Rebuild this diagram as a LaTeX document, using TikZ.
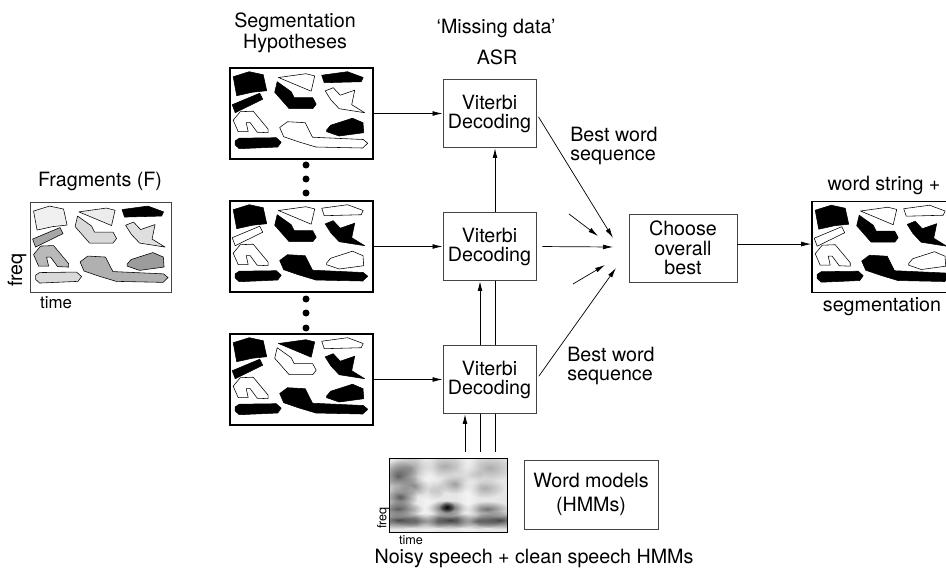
\documentclass[tikz,border=0pt]{standalone}
\usepackage{fontspec}
\setmainfont{TeX Gyre Heros}
\usetikzlibrary{arrows.meta, positioning, calc, fadings}
\definecolor{myborder}{HTML}{444444}
\definecolor{specback}{HTML}{E6E6E6}
\tikzfading[name=blob, inner color=transparent!0, outer color=transparent!100]
\tikzset{
block/.style={
draw=myborder,
fill=white,
line width=0.6pt,
align=center,
inner sep=0pt,
minimum width=2.325cm,
minimum height=1.7cm
},
hyp/.style={
draw=black,
line width=1.1pt,
inner sep=0pt,
minimum width=3.575cm,
minimum height=2.275cm
},
fragbox/.style={
draw=myborder,
line width=0.6pt,
inner sep=0pt,
minimum width=3.525cm,
minimum height=2.25cm
},
frag/.style={
draw=black,
line width=0.4pt,
line join=round
},
labeltext/.style={
align=center
},
smalllabel/.style={
font=\fontsize{9}{10}\selectfont
},
arrow/.style={
-{Latex[length=2.5mm,width=1.2mm]},
line width=0.5pt
}
}

% fragment outlines, in pixels from the top left corner of a box
\def\fragA{(4,9.5) -- (20,4.5) -- (34,7.5) -- (37.5,23.5) -- (23.3,25) -- (7.5,28.5)}
\def\fragB{(3,37.5) -- (30.5,26) -- (33.5,32) -- (6,45.5)}
\def\fragC{(49.3,10.3) -- (76.7,6.5) -- (85.5,8.7) -- (82,24)}
\def\fragD{(48,14.5) -- (45.5,25) -- (60,41.5) -- (83.5,41.5) -- (87,37) -- (83.5,30.5) -- (65,30.5) -- (62,24.5)}
\def\fragE{(92.5,8) -- (118.3,4.5) -- (134,10.3) -- (132,14.5) -- (95,15.5)}
\def\fragF{(96,23.7) -- (104,20.5) -- (111,28) -- (125.5,23) -- (122.5,37.5) -- (135.5,45.5) -- (110,41.5) -- (101.7,32.7)}
\def\fragG{(4,53) -- (11,44.5) -- (24,44) -- (39,62) -- (39,65.5) -- (28,65) -- (21,55.5) -- (17,55.5) -- (19,64.5) -- (9,64.5)}
\def\fragH{(6,73.7) -- (10,71) -- (47,70.5) -- (52,75) -- (48.5,79.8) -- (10,81.5) -- (6,77.7)}
\def\fragI{(50.5,60.3) -- (58.3,54.5) -- (76,55.5) -- (80,63.5) -- (83.3,70) -- (134,72.3) -- (138.5,76) -- (133.5,80.8) -- (86.7,79.8) -- (70,74.8) -- (54.5,69.5)}
\def\fragJ{(97.5,62.7) -- (101.5,58) -- (123.3,51) -- (133.8,55.5) -- (134.5,65.5) -- (110,68.8) -- (97.5,64.5)}

\newcommand{\fragfill}[2]{%
  \begin{scope}[shift={(#1.north west)}]
    \foreach \p/\c in {#2} {\draw[frag, fill=\c] \p -- cycle;}
  \end{scope}}

\begin{document}
\begin{tikzpicture}[x=0.025cm, y=-0.025cm, font=\fontsize{14}{13.5}\selectfont]
\clip (0,0) rectangle (946,570);

% titles
\node[labeltext, font=\fontsize{14}{15}\selectfont] (hyptitle) at (295,32.5) {Segmentation\\Hypotheses};
\node (asrtitle) at (496,28) {‘Missing data’};
\node (asr) at (497,57) {ASR};
\node (fragtitle) at (100,181) {Fragments (F)};

% fragments
\node[fragbox] (frags) at (100.5,247) {};
\fragfill{frags}{\fragA/gray!12, \fragB/gray!70, \fragC/gray!15, \fragD/gray!30, \fragE/black,
  \fragF/gray!25, \fragG/gray!55, \fragH/gray!30, \fragI/gray!62, \fragJ/gray!78}
\node[rotate=90] (fragfreq) at (17,270) {freq};
\node[font=\fontsize{12}{13}\selectfont] (fragtime) at (56,303) {time};

% hypotheses
\node[hyp] (hypA) at (301.5,113.5) {};
\fragfill{hypA}{\fragA/black, \fragB/black, \fragC/white, \fragD/black, \fragE/black,
  \fragF/white, \fragG/white, \fragH/black, \fragI/white, \fragJ/black}
\node[hyp] (hypB) at (301.5,246.5) {};
\fragfill{hypB}{\fragA/black, \fragB/white, \fragC/white, \fragD/black, \fragE/white,
  \fragF/black, \fragG/white, \fragH/black, \fragI/black, \fragJ/white}
\node[hyp] (hypC) at (301.5,379.5) {};
\fragfill{hypC}{\fragA/black, \fragB/black, \fragC/black, \fragD/white, \fragE/white,
  \fragF/black, \fragG/white, \fragH/black, \fragI/black, \fragJ/black}
\foreach \y in {165,179,193,299,313,328} {
  \fill (306,\y) circle (3.5);
}

% decoders
\node[block] (vitA) at (489.5,113.5) {Viterbi\\Decoding};
\node[block] (vitB) at (489.5,246.5) {Viterbi\\Decoding};
\node[block] (vitC) at (489.5,379.5) {Viterbi\\Decoding};
\node[anchor=west, align=left, inner sep=0pt] (bestA) at (570,145.5) {Best word\\sequence};
\node[anchor=west, align=left, inner sep=0pt] (bestC) at (567,366) {Best word\\sequence};

% choice and result
\node[block, minimum width=2.7cm, font=\fontsize{14}{14}\selectfont] (choose) at (683,248) {Choose\\overall\\best};
\node[hyp] (result) at (883.5,247) {};
\fragfill{result}{\fragA/black, \fragB/white, \fragC/white, \fragD/black, \fragE/white,
  \fragF/black, \fragG/white, \fragH/black, \fragI/black, \fragJ/white}
\node (resulttop) at (884,185) {word string +};
\node (resultbot) at (882,307) {segmentation};

% spectrogram
\node[fill=specback, minimum width=2.925cm, minimum height=1.825cm, inner sep=0pt] (spec) at (448.5,495.5) {};
\begin{scope}
  \clip (spec.south west) rectangle (spec.north east);
  \foreach \x/\y/\rx/\ry/\k in {
      % upper texture
      410/468/22/14/0.3, 445/466/24/12/0.25, 490/468/24/14/0.25, 455/484/18/10/0.3,
      485/488/20/10/0.25, 430/490/16/10/0.25, 470/475/14/8/0.2,
      % left formants
      398/476/20/16/0.55, 400/497/18/12/0.6, 414/486/16/10/0.4,
      % lower bands
      398/509/26/8/0.6, 447/508/22/8/0.65, 487/509/24/8/0.5,
      398/520/30/9/0.65, 425/521/30/8/0.55, 450/520/30/9/0.65, 475/521/30/8/0.55, 500/520/30/9/0.65} {
    \fill[black, opacity=\k, path fading=blob] (\x,\y) ellipse [x radius=\rx, y radius=\ry];
  }
  \fill[black, opacity=0.9, path fading=blob] (447,507) ellipse [x radius=8, y radius=6];
  \foreach \x in {427,468} {
    \fill[white, opacity=0.55, path fading=blob] (\x,495) ellipse [x radius=12, y radius=80];
  }
\end{scope}
\draw[line width=0.6pt] (spec.south west) rectangle (spec.north east);
\node[smalllabel, rotate=90] (specfreq) at (383,518) {freq};
\node[smalllabel] (spectime) at (411,540) {time};
\node[block, minimum width=3.35cm, minimum height=1.725cm, font=\fontsize{14}{17.5}\selectfont] (models) at (591,494.5) {Word models\\(HMMs)};
\node (caption) at (534,558) {Noisy speech + clean speech HMMs};

% hypotheses into decoders
\draw[arrow] (hypA.east) -- (vitA.west);
\draw[arrow] (hypB.east) -- (vitB.west);
\draw[arrow] (hypC.east) -- (vitC.west);

% models into decoders
\coordinate (feedA) at (465,452);
\coordinate (feedB) at (480,452);
\coordinate (feedC) at (495,452);
\draw[arrow, line width=0.7pt] (feedA) -- (feedA |- vitC.south);
\draw[line width=0.7pt] (feedB) -- (feedB |- vitC.south);
\draw[arrow, line width=0.7pt] (feedB |- vitC.north) -- (feedB |- vitB.south);
\draw[line width=0.7pt] (feedC) -- (feedC |- vitC.south);
\draw[line width=0.7pt] (feedC |- vitC.north) -- (feedC |- vitB.south);
\draw[arrow, line width=0.7pt] (feedC |- vitB.north) -- (feedC |- vitA.south);

% decoders into choice
\coordinate (tipA) at (613,238);
\coordinate (tipB) at (613,247);
\coordinate (tipC) at (616,268);
\coordinate (cueA) at (569,214);
\coordinate (cueAend) at (598,236);
\coordinate (cueB) at (573,284);
\coordinate (cueBend) at (605,265);
\draw[arrow, shorten <=1mm] (vitA.east) -- (tipA);
\draw[arrow, shorten <=1.5mm] (vitB.east) -- (tipB);
\draw[arrow, shorten <=1mm] (vitC.east) -- (tipC);
\draw[arrow] (cueA) -- (cueAend);
\draw[arrow] (cueB) -- (cueBend);

% choice into result
\draw[arrow] ([yshift=2.8pt]choose.east) -- ([yshift=2.8pt]choose.east -| result.west);

\end{tikzpicture}
\end{document}
